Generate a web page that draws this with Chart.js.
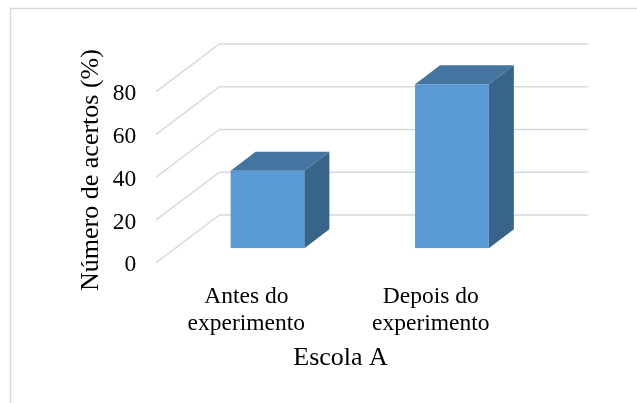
<!DOCTYPE html>
<html>
<head>
<meta charset="utf-8">
<script src="https://cdn.jsdelivr.net/npm/chart.js@4/dist/chart.umd.min.js"></script>
<style>
  html, body { margin: 0; padding: 0; background: #ffffff; }
  #wrap { width: 637px; height: 403px; }
</style>
</head>
<body>
<div id="wrap"><canvas id="c" width="637" height="403"></canvas></div>
<script>
// ---- data ----
const categories = [["Antes do", "experimento"], ["Depois do", "experimento"]];
const values = [36.3, 76.7];
const yTicks = [0, 20, 40, 60, 80];
const yTitle = "Número de acertos (%)";
const xTitle = "Escola A";

// ---- style / geometry constants ----
const FONT = "'Liberation Serif', 'Times New Roman', serif";
const FRONT_COLOR = "#5B9BD5";
const TOP_COLOR = "#4475A1";
const SIDE_COLOR = "#396489";
const GRID_COLOR = "#d9d9d9";
const BAR_DX = 25, BAR_DY = 19;        // depth of the bars
const FRONT_DX = 19.15, FRONT_DY = 14.35; // bar plane -> front wall edge
const BACK_DX = 44.15, BACK_DY = 33.35;   // bar plane -> back wall

const threeD = {
  id: 'threeD',
  beforeDatasetsDraw(chart) {
    const ctx = chart.ctx;
    const ys = chart.scales.y;
    const area = chart.chartArea;
    ctx.save();
    // outer frame
    ctx.strokeStyle = GRID_COLOR;
    ctx.lineWidth = 1.5;
    ctx.strokeRect(10.5, 8.5, 800, 600);
    // walls
    ctx.lineWidth = 1.4;
    ctx.strokeStyle = GRID_COLOR;
    const frontLeft = area.left - FRONT_DX;
    const backLeft = area.left + BACK_DX;
    const backRight = area.right + BACK_DX;
    yTicks.forEach(v => {
      const y = ys.getPixelForValue(v);
      ctx.beginPath();
      ctx.moveTo(frontLeft, y + FRONT_DY);
      ctx.lineTo(backLeft, y - BACK_DY);
      ctx.lineTo(backRight, y - BACK_DY);
      ctx.stroke();
    });
    ctx.restore();
  },
  afterDatasetsDraw(chart) {
    const ctx = chart.ctx;
    const meta = chart.getDatasetMeta(0);
    ctx.save();
    meta.data.forEach(bar => {
      const p = bar.getProps(['x', 'y', 'base', 'width'], true);
      const l = p.x - p.width / 2, r = p.x + p.width / 2;
      const t = p.y, b = p.base;
      // top face
      ctx.fillStyle = TOP_COLOR;
      ctx.beginPath();
      ctx.moveTo(l, t);
      ctx.lineTo(l + BAR_DX, t - BAR_DY);
      ctx.lineTo(r + BAR_DX, t - BAR_DY);
      ctx.lineTo(r, t);
      ctx.closePath();
      ctx.fill();
      // side face
      ctx.fillStyle = SIDE_COLOR;
      ctx.beginPath();
      ctx.moveTo(r, t);
      ctx.lineTo(r + BAR_DX, t - BAR_DY);
      ctx.lineTo(r + BAR_DX, b - BAR_DY);
      ctx.lineTo(r, b);
      ctx.closePath();
      ctx.fill();
    });
    ctx.restore();
  },
  afterDraw(chart) {
    const ctx = chart.ctx;
    const area = chart.chartArea;
    ctx.save();
    ctx.fillStyle = "#000000";
    ctx.font = "26px " + FONT;
    ctx.textAlign = "center";
    ctx.textBaseline = "alphabetic";
    // y axis title
    ctx.save();
    ctx.translate(97.7, 170);
    ctx.rotate(-Math.PI / 2);
    ctx.fillText(yTitle, 0, 0);
    ctx.restore();
    // x axis title
    const cx = (area.left + area.right) / 2 - FRONT_DX;
    ctx.fillText(xTitle, cx, 365);
    ctx.restore();
  }
};

new Chart(document.getElementById('c'), {
  type: 'bar',
  data: {
    labels: categories,
    datasets: [{
      data: values,
      backgroundColor: FRONT_COLOR,
      borderWidth: 0,
      barPercentage: 0.4,
      categoryPercentage: 1.0
    }]
  },
  options: {
    responsive: false,
    animation: false,
    devicePixelRatio: 1,
    layout: { padding: { left: 0, right: 92.8, top: 77.3, bottom: 0 } },
    plugins: { legend: { display: false }, tooltip: { enabled: false }, title: { display: false } },
    scales: {
      x: {
        grid: { display: false },
        border: { display: false },
        ticks: {
          color: "#000000",
          font: { family: FONT, size: 23.5, lineHeight: 1.14 },
          padding: 27,
          labelOffset: -FRONT_DX - 2,
          maxRotation: 0,
          autoSkip: false
        },
        afterFit(scale) { scale.height = 403 - 248.3; }
      },
      y: {
        min: 0,
        max: 80,
        grid: { display: false },
        border: { display: false },
        afterBuildTicks(scale) { scale.ticks = yTicks.map(v => ({ value: v })); },
        ticks: {
          color: "#000000",
          font: { family: FONT, size: 23.5 },
          padding: 31,
          labelOffset: FRONT_DY + 2.5
        },
        afterFit(scale) { scale.width = 175.25; }
      }
    }
  },
  plugins: [threeD]
});
</script>
</body>
</html>
